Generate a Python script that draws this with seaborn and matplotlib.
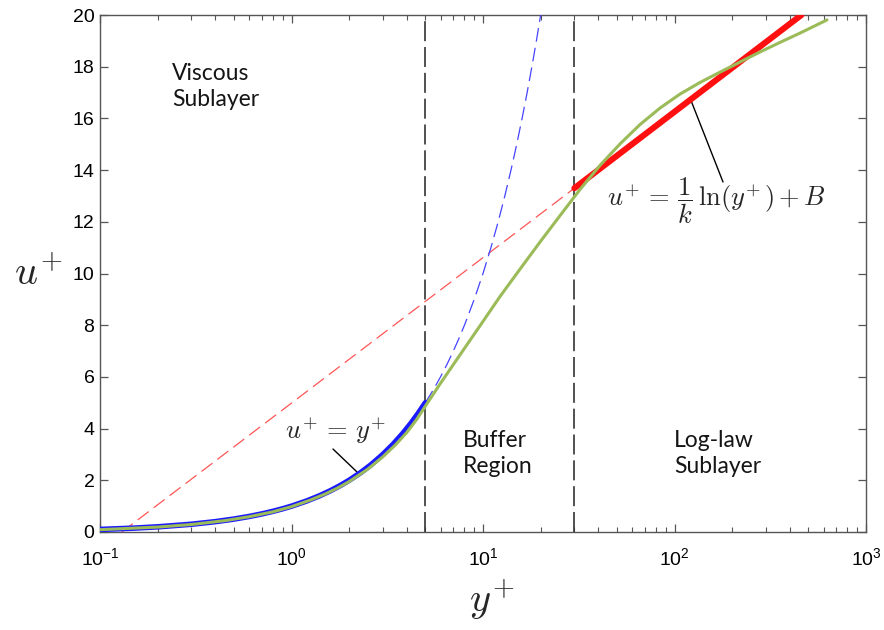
import matplotlib
matplotlib.use("Agg")
import matplotlib.pyplot as plt
import seaborn as sns

# ---- data ----
# viscous sublayer law u+ = y+ (solid part, then dashed extension)
visc_y = [0.1, 0.15, 0.2, 0.3, 0.4, 0.5, 0.6, 0.7, 0.8, 0.9, 1.0, 1.2, 1.4, 1.6, 1.8, 2.0, 2.3, 2.6,
          3.0, 3.4, 3.8, 4.2, 4.6, 5.0]
visc_u = [0.1, 0.15, 0.2, 0.3, 0.4, 0.5, 0.6, 0.7, 0.8, 0.9, 1.0, 1.2, 1.4, 1.6, 1.8, 2.0, 2.3, 2.6,
          3.0, 3.4, 3.8, 4.2, 4.6, 5.0]
visc_ext_y = [5.0, 5.5, 6.0, 6.5, 7.0, 7.5, 8.0, 9.0, 10.0, 11.0, 12.0, 13.0, 14.0, 15.0, 16.0,
              17.0, 18.0, 19.0, 20.0]
visc_ext_u = [5.0, 5.5, 6.0, 6.5, 7.0, 7.5, 8.0, 9.0, 10.0, 11.0, 12.0, 13.0, 14.0, 15.0, 16.0,
              17.0, 18.0, 19.0, 20.0]

# log law (dashed extension below y+=30, solid above)
log_ext_y = [0.13, 30.0]
log_ext_u = [0.0, 13.3]
log_y = [30.0, 460.0]
log_u = [13.3, 20.0]

# full velocity profile (green)
prof_y = [0.1, 0.2, 0.3, 0.45, 0.6, 0.8, 1.0, 1.25, 1.5, 1.75, 2.0, 2.5, 3.0, 3.5, 4.0, 4.5, 5.0,
          5.97, 7.58, 9.65, 12.27, 15.61, 19.86, 25.25, 32.1, 40.8, 51.9, 66.0, 84.0, 106.8,
          135.9, 172.8, 219.8, 279.6, 355.6, 452.3, 625.7]
prof_u = [0.09, 0.19, 0.29, 0.44, 0.59, 0.78, 0.98, 1.23, 1.47, 1.71, 1.95, 2.43, 2.91, 3.38, 3.85,
          4.35, 4.87, 5.73, 6.85, 7.98, 9.11, 10.17, 11.22, 12.24, 13.25, 14.18, 15.01, 15.76,
          16.40, 16.94, 17.39, 17.79, 18.18, 18.57, 18.94, 19.30, 19.81]

region_bounds = [5.0, 30.0]
x_ticks = [0.1, 1, 10, 100, 1000]
y_ticks = [0, 2, 4, 6, 8, 10, 12, 14, 16, 18, 20]

# ---- style ----
sns.set_style("ticks")
plt.rcParams["font.family"] = ["Liberation Sans", "DejaVu Sans"]
plt.rcParams["mathtext.fontset"] = "cm"

fig = plt.figure(figsize=(8.84, 6.3), dpi=100)
ax = fig.add_axes([100 / 884, 98 / 630, 766 / 884, 517 / 630])
ax.set_xscale("log")

# vertical region boundaries
for xb in region_bounds:
    ax.plot([xb, xb], [0, 20], color="#333333", lw=1.2, linestyle=(0, (12, 3.5)), zorder=2)

# dashed extensions
sns.lineplot(x=log_ext_y, y=log_ext_u, ax=ax, color="#ff5555", lw=0.9,
             linestyle=(0, (11, 5)), estimator=None, sort=False, zorder=3)
sns.lineplot(x=visc_ext_y, y=visc_ext_u, ax=ax, color="#4444ff", lw=0.9,
             linestyle=(0, (11, 5)), estimator=None, sort=False, zorder=3)

# solid laws
sns.lineplot(x=visc_y, y=visc_u, ax=ax, color="#1a1aff", lw=4.0,
             estimator=None, sort=False, zorder=4)
sns.lineplot(x=log_y, y=log_u, ax=ax, color="#ff1010", lw=4.4,
             estimator=None, sort=False, zorder=4)

# full profile
sns.lineplot(x=prof_y, y=prof_u, ax=ax, color="#9bbb59", lw=2.2,
             estimator=None, sort=False, zorder=5)

ax.set_xlim(0.1, 1000)
ax.set_ylim(0, 20)
ax.set_xticks(x_ticks)
ax.set_yticks(y_ticks)

for sp in ax.spines.values():
    sp.set_visible(True)
    sp.set_color("#555555")
    sp.set_linewidth(1.0)

ax.tick_params(which="both", direction="in", top=True, right=True, color="#555555")
ax.tick_params(which="major", length=6, width=0.9, labelsize=14, labelcolor="black")
ax.tick_params(which="minor", length=3.5, width=0.8)
ax.tick_params(axis="x", which="major", pad=11)
ax.tick_params(axis="y", which="major", pad=4)
ax.tick_params(axis="y", which="minor", left=False, right=False)

ax.set_xlabel(r"$y^{\!+}$", fontsize=29)
ax.set_ylabel(r"$u^{\!+}$", fontsize=29, rotation=0)
ax.xaxis.set_label_coords(0.512, -0.13)
ax.yaxis.set_label_coords(-0.081, 0.5)
ax.xaxis.label.set_va("center")
ax.yaxis.label.set_va("center")
ax.yaxis.label.set_ha("center")

# region labels
rfont = dict(family=["Lato", "DejaVu Sans"], fontsize=16.5, color="#151515", linespacing=1.3)
ax.text(0.238, 18.15, "Viscous\nSublayer", ha="left", va="top", **rfont)
ax.text(7.87, 3.95, "Buffer\nRegion", ha="left", va="top", **rfont)
ax.text(99.4, 3.95, "Log-law\nSublayer", ha="left", va="top", **rfont)

# equation annotations
ax.text(0.925, 3.9, r"$u^{\!+}{=}\,y^{\!+}$", fontsize=19, ha="left", va="center")
ax.annotate("", xy=(2.2, 2.32), xytext=(1.647, 3.21),
            arrowprops=dict(arrowstyle="-", color="black", lw=1.0, shrinkA=0, shrinkB=0))
ax.text(44.4, 12.8, r"$u^{\!+}{=}\,\dfrac{1}{k}\,\ln(y^{\!+})\,{+}\,B$", fontsize=19,
        ha="left", va="center")
ax.annotate("", xy=(120.5, 16.79), xytext=(179.2, 13.54),
            arrowprops=dict(arrowstyle="-", color="black", lw=1.0, shrinkA=0, shrinkB=0))

fig.savefig("out.png", dpi=100)
